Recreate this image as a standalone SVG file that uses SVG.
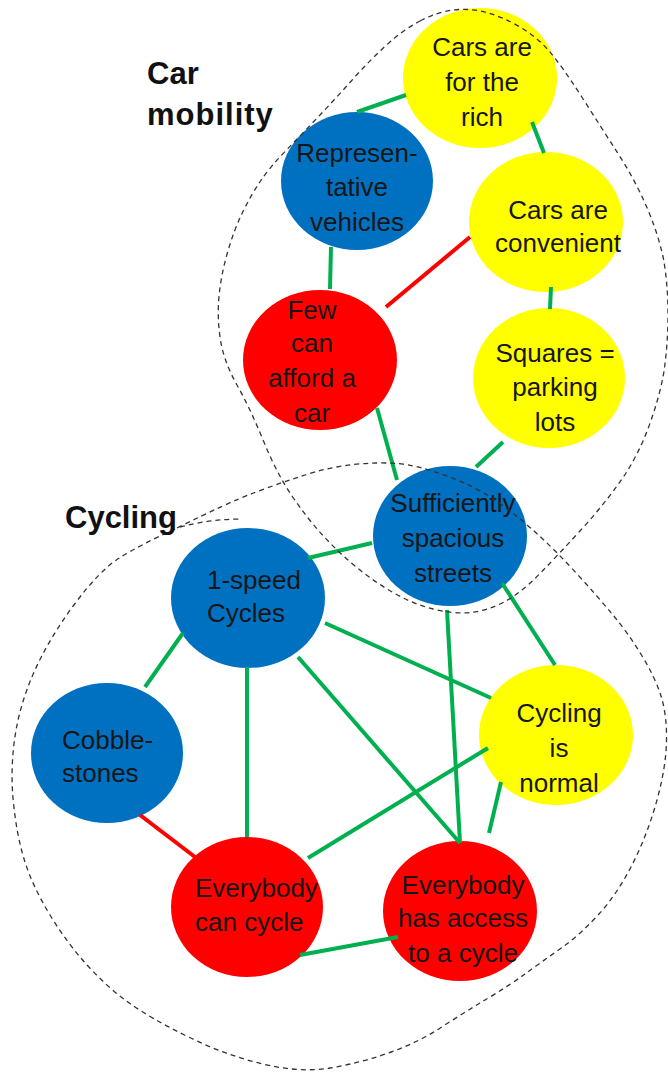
<svg xmlns="http://www.w3.org/2000/svg" width="668" height="1075" viewBox="0 0 668 1075">
<style>
.y{fill:#FFFF00}.b{fill:#0070C0}.r{fill:#FF0000}
.t{font-family:"Liberation Sans",Arial,sans-serif;font-size:26px;fill:#161616;text-anchor:middle}
.s{text-anchor:start}
.lbl{font-family:"Liberation Sans",Arial,sans-serif;font-size:31px;font-weight:bold;fill:#111}
.g{stroke:#00B050;stroke-width:4;fill:none}
.rd{stroke:#FF0000;stroke-width:4;fill:none}
.out{fill:none;stroke:#333;stroke-width:1.3;stroke-dasharray:5 4}
</style>
<rect width="668" height="1075" fill="#fff"/>
<g id="n-rich"><ellipse class="y" cx="480" cy="78" rx="77" ry="70"/><text class="t"><tspan x="482" y="56">Cars are</tspan><tspan x="482" y="91">for the</tspan><tspan x="482" y="126">rich</tspan></text></g>
<g id="n-repr"><ellipse class="b" cx="357" cy="181" rx="76" ry="69"/><text class="t"><tspan x="357" y="162">Represen-</tspan><tspan x="357" y="196">tative</tspan><tspan x="357" y="231">vehicles</tspan></text></g>
<g id="n-conv"><ellipse class="y" cx="546" cy="222" rx="77" ry="70"/><text class="t"><tspan x="558" y="219">Cars are</tspan><tspan x="558" y="252">convenient</tspan></text></g>
<g id="n-few"><ellipse class="r" cx="320" cy="360" rx="77" ry="70"/><text class="t"><tspan x="312" y="319">Few</tspan><tspan x="312" y="352">can</tspan><tspan x="312" y="387">afford a</tspan><tspan x="312" y="422">car</tspan></text></g>
<g id="n-squares"><ellipse class="y" cx="549" cy="378" rx="76" ry="70"/><text class="t"><tspan x="555" y="362">Squares =</tspan><tspan x="555" y="396">parking</tspan><tspan x="555" y="431">lots</tspan></text></g>
<g id="n-streets"><ellipse class="b" cx="450" cy="536" rx="77" ry="70"/><text class="t"><tspan x="453" y="512">Sufficiently</tspan><tspan x="453" y="547">spacious</tspan><tspan x="453" y="582">streets</tspan></text></g>
<g id="n-1speed"><ellipse class="b" cx="248" cy="598" rx="77" ry="70"/><text class="t s"><tspan x="207" y="589">1-speed</tspan><tspan x="207" y="622">Cycles</tspan></text></g>
<g id="n-cobble"><ellipse class="b" cx="107" cy="753" rx="76" ry="70"/><text class="t s"><tspan x="62" y="749">Cobble-</tspan><tspan x="62" y="782">stones</tspan></text></g>
<g id="n-normal"><ellipse class="y" cx="556" cy="735" rx="77" ry="70"/><text class="t"><tspan x="559" y="722">Cycling</tspan><tspan x="559" y="757">is</tspan><tspan x="559" y="792">normal</tspan></text></g>
<g id="n-cancycle"><ellipse class="r" cx="247" cy="907" rx="76" ry="70"/><text class="t s"><tspan x="195" y="897">Everybody</tspan><tspan x="195" y="931">can cycle</tspan></text></g>
<g id="n-access"><ellipse class="r" cx="460" cy="911" rx="77" ry="70"/><text class="t"><tspan x="463" y="894">Everybody</tspan><tspan x="463" y="927">has access</tspan><tspan x="463" y="962">to a cycle</tspan></text></g>
<g id="connectors">
<line class="g" x1="357" y1="112" x2="406" y2="95"/>
<line class="g" x1="532" y1="122" x2="544" y2="153"/>
<line class="g" x1="331" y1="247" x2="330" y2="289"/>
<line class="rd" x1="386" y1="307" x2="470" y2="237"/>
<line class="g" x1="551" y1="287" x2="550" y2="309"/>
<line class="g" x1="377" y1="408" x2="397" y2="480"/>
<line class="g" x1="503" y1="442" x2="476" y2="467"/>
<line class="g" x1="308" y1="558" x2="372" y2="543"/>
<line class="g" x1="183" y1="633" x2="145" y2="687"/>
<line class="g" x1="247" y1="667" x2="247" y2="837"/>
<line class="g" x1="325" y1="623" x2="491" y2="698"/>
<line class="g" x1="298" y1="657" x2="460" y2="843"/>
<line class="g" x1="447" y1="610" x2="460" y2="843"/>
<line class="g" x1="502" y1="583" x2="555" y2="665"/>
<line class="g" x1="488" y1="748" x2="308" y2="858"/>
<line class="g" x1="501" y1="782" x2="489" y2="833"/>
<line class="g" x1="300" y1="955" x2="398" y2="937"/>
<line class="rd" x1="140" y1="815" x2="195" y2="857"/>
</g>
<g id="groups">
<path class="out" d="M420,21 Q437,12 453.5,10 Q470,8 486.5,12.5 Q503,17 520,27 Q537,37 549.5,51.5 Q562,66 581.5,96.5 Q601,127 618,153.5 Q635,180 646.5,206.5 Q658,233 663.5,259 Q668,285 668,314 Q668,343 664,371.5 Q659,400 647.5,430 Q636,460 618.5,484 Q601,508 579.5,531.5 Q558,555 539.5,574 Q521,593 504,602 Q487,611 470,612.5 Q453,614 433,609 Q413,604 393,592.5 Q373,581 355,566 Q337,551 322,534.5 Q307,518 292,496 Q277,474 263.5,441 Q250,408 237,385 Q224,362 220.5,340 Q217,318 219,296.5 Q221,275 227.5,252.5 Q234,230 242.5,212.5 Q251,195 260.5,181 Q270,167 286.5,150 Q303,133 320,115 Q337,97 353.5,78.5 Q370,60 386.5,45 Q403,30 420,21 Z"/>
<path class="out" d="M177,528 Q227,503 253.5,493 Q280,483 305,475 Q330,467 353.5,464.5 Q377,462 397,463.5 Q417,465 447,476 Q477,487 498.5,502.5 Q520,518 539,535.5 Q558,553 578,575 Q598,597 613,615 Q628,633 641.5,655 Q655,677 661,696 Q667,715 666.5,741 Q666,767 657,800 Q648,833 633,863 Q618,893 599,914 Q580,935 560,949 Q540,963 525,974 Q510,985 487.5,998.5 Q465,1012 441,1027.5 Q417,1043 388.5,1053 Q360,1063 330,1068 Q300,1073 262.5,1064 Q225,1055 187.5,1036.5 Q150,1018 128.5,1002.5 Q107,987 87,965 Q67,943 50,915 Q33,887 25,862 Q17,837 13.5,803.5 Q10,770 15,736.5 Q20,703 35,670 Q50,637 75,603.5 Q100,570 120,557.5 Q140,545 177,528 Z"/>
<path class="out" d="M180,527 Q210,519 242,519"/>
<text class="lbl" x="147" y="84">Car</text>
<text class="lbl" x="147" y="125" letter-spacing="1">mobility</text>
<text class="lbl" x="65" y="528" font-size="30">Cycling</text>
</g>
</svg>
